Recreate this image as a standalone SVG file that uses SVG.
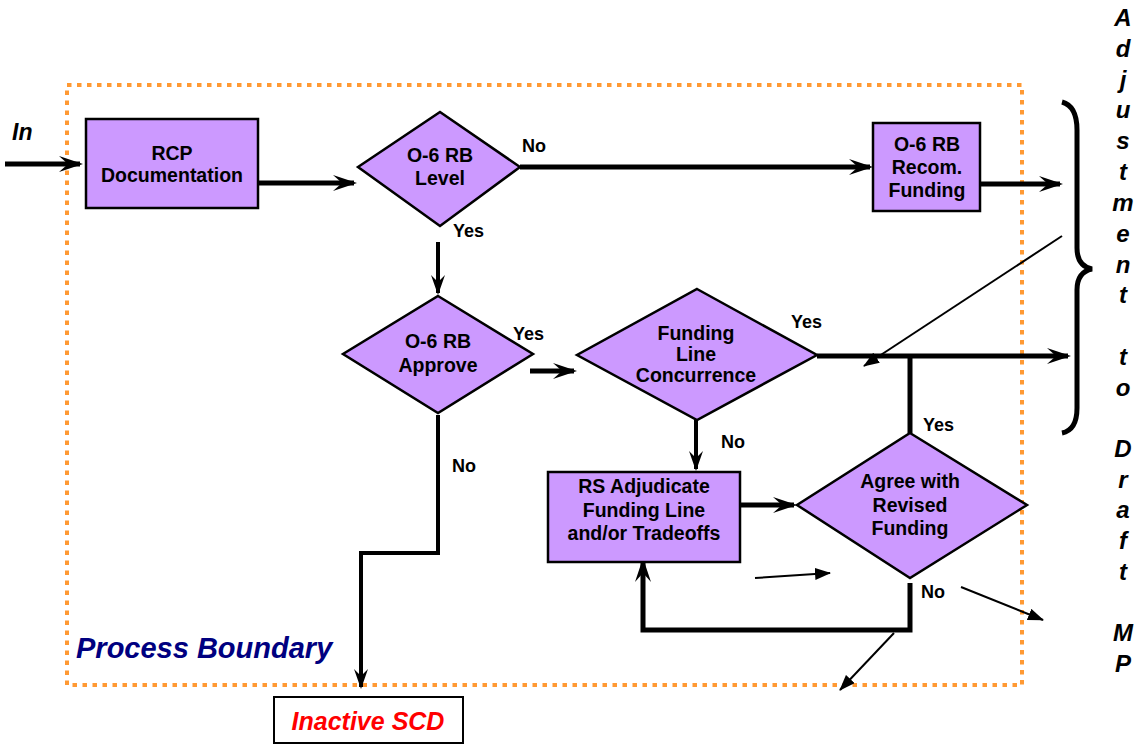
<svg xmlns="http://www.w3.org/2000/svg" width="1136" height="744" viewBox="0 0 1136 744">
<style>
.node{fill:#cc99ff;stroke:#000;stroke-width:2.5}
.t{font-family:"Liberation Sans",Arial,sans-serif;font-weight:bold;font-size:19.5px;fill:#000;text-anchor:middle}
.lbl{font-family:"Liberation Sans",Arial,sans-serif;font-weight:bold;font-size:18px;fill:#000}
.thick{fill:none;stroke:#000;stroke-width:5}
.med{fill:none;stroke:#000;stroke-width:4}
.thin{fill:none;stroke:#000;stroke-width:2}
.side{font-family:"Liberation Sans",Arial,sans-serif;font-weight:bold;font-style:italic;font-size:24px;fill:#000;text-anchor:middle}
</style>
<defs>
<marker id="stealth" viewBox="0 0 24 16" refX="21" refY="8" markerWidth="24" markerHeight="16" markerUnits="userSpaceOnUse" orient="auto">
<path d="M0,0 L24,8 L0,16 L9,8 z" fill="#000"/>
</marker>
<marker id="stealthS" viewBox="0 0 20 14" refX="18" refY="7" markerWidth="20" markerHeight="14" markerUnits="userSpaceOnUse" orient="auto">
<path d="M0,0 L20,7 L0,14 L7,7 z" fill="#000"/>
</marker>
<marker id="tri" viewBox="0 0 16 12" refX="15" refY="6" markerWidth="16" markerHeight="12" markerUnits="userSpaceOnUse" orient="auto">
<path d="M0,0 L16,6 L0,12 z" fill="#000"/>
</marker>
</defs>
<rect width="1136" height="744" fill="#fff"/>

<!-- process boundary -->
<rect x="67" y="85" width="955" height="600" fill="none" stroke="#ff9933" stroke-width="4" stroke-dasharray="4.5 5.5"/>
<text x="76" y="658" font-family="Liberation Sans,Arial,sans-serif" font-weight="bold" font-style="italic" font-size="29" fill="#000080">Process Boundary</text>
<text x="12" y="140" font-family="Liberation Sans,Arial,sans-serif" font-weight="bold" font-style="italic" font-size="23" fill="#000">In</text>

<g id="connectors">
<line class="thick" x1="5" y1="164" x2="80" y2="164" marker-end="url(#stealth)"/>
<line class="thick" x1="258" y1="183" x2="354" y2="183" marker-end="url(#stealth)"/>
<line class="thick" x1="520" y1="167" x2="870" y2="167" marker-end="url(#stealth)"/>
<line class="thick" x1="980" y1="184" x2="1060" y2="184" marker-end="url(#stealth)"/>
<line class="med" x1="438" y1="242" x2="438" y2="293" marker-end="url(#stealthS)"/>
<line class="thick" x1="530" y1="371" x2="574" y2="371" marker-end="url(#stealth)"/>
<polyline class="thick" points="817,356 1068,356" marker-end="url(#stealth)"/>
<line class="thick" x1="910" y1="356" x2="910" y2="433"/>
<line class="med" x1="696" y1="420" x2="696" y2="469" marker-end="url(#stealthS)"/>
<line class="thick" x1="740" y1="505" x2="794" y2="505" marker-end="url(#stealth)"/>
<polyline class="thick" points="910,583 910,630 643,630 643,561" marker-end="url(#stealth)"/>
<polyline class="med" points="438,415 438,553 361,553 361,687" marker-end="url(#stealthS)"/>
<line class="thin" x1="1062" y1="236" x2="864" y2="366" marker-end="url(#tri)"/>
<line class="thin" x1="755" y1="578" x2="830" y2="573" marker-end="url(#tri)"/>
<line class="thin" x1="961" y1="587" x2="1043" y2="620" marker-end="url(#tri)"/>
<line class="thin" x1="894" y1="633" x2="840" y2="690" marker-end="url(#tri)"/>
<!-- brace -->
<path d="M1062,102 Q1077,106 1077,130 L1077,248 Q1077,266 1092,269 Q1077,272 1077,290 L1077,408 Q1077,430 1062,433" fill="none" stroke="#000" stroke-width="5"/>
<text class="lbl" x="522" y="152">No</text>
<text class="lbl" x="453" y="237">Yes</text>
<text class="lbl" x="513" y="340">Yes</text>
<text class="lbl" x="791" y="328">Yes</text>
<text class="lbl" x="721" y="448">No</text>
<text class="lbl" x="923" y="431">Yes</text>
<text class="lbl" x="921" y="598">No</text>
<text class="lbl" x="452" y="472">No</text>
</g>

<g id="rcp">
<rect class="node" x="86" y="119" width="172" height="89"/>
<text class="t" x="172" y="160">RCP</text>
<text class="t" x="172" y="182">Documentation</text>
</g>
<g id="level">
<polygon class="node" points="440,112 520,167 440,226 358,167"/>
<text class="t" x="440" y="162">O-6 RB</text>
<text class="t" x="440" y="185">Level</text>
</g>
<g id="recom">
<rect class="node" x="873" y="123" width="107" height="88"/>
<text class="t" x="927" y="151">O-6 RB</text>
<text class="t" x="927" y="174">Recom.</text>
<text class="t" x="927" y="197">Funding</text>
</g>
<g id="approve">
<polygon class="node" points="438,296 533,354 438,413 343,354"/>
<text class="t" x="438" y="348">O-6 RB</text>
<text class="t" x="438" y="372">Approve</text>
</g>
<g id="concurrence">
<polygon class="node" points="697,289 817,355 697,420 577,355"/>
<text class="t" x="696" y="340">Funding</text>
<text class="t" x="696" y="361">Line</text>
<text class="t" x="696" y="382">Concurrence</text>
</g>
<g id="adjudicate">
<rect class="node" x="548" y="472" width="192" height="90"/>
<text class="t" x="644" y="493">RS Adjudicate</text>
<text class="t" x="644" y="517">Funding Line</text>
<text class="t" x="644" y="540">and/or Tradeoffs</text>
</g>
<g id="agree">
<polygon class="node" points="910,433 1027,505 910,578 797,505"/>
<text class="t" x="910" y="488">Agree with</text>
<text class="t" x="910" y="512">Revised</text>
<text class="t" x="910" y="535">Funding</text>
</g>
<g id="inactive">
<rect x="274" y="697" width="189" height="46" fill="#fff" stroke="#000" stroke-width="2"/>
<text x="368" y="730" text-anchor="middle" font-family="Liberation Sans,Arial,sans-serif" font-weight="bold" font-style="italic" font-size="25" fill="#ff0000">Inactive SCD</text>
</g>
<g id="adjustment">
<text class="side" x="1123" y="26">A</text>
<text class="side" x="1123" y="57">d</text>
<text class="side" x="1123" y="88">j</text>
<text class="side" x="1123" y="118">u</text>
<text class="side" x="1123" y="149">s</text>
<text class="side" x="1123" y="180">t</text>
<text class="side" x="1123" y="211">m</text>
<text class="side" x="1123" y="242">e</text>
<text class="side" x="1123" y="273">n</text>
<text class="side" x="1123" y="303">t</text>
<text class="side" x="1123" y="365">t</text>
<text class="side" x="1123" y="396">o</text>
<text class="side" x="1123" y="457">D</text>
<text class="side" x="1123" y="488">r</text>
<text class="side" x="1123" y="518">a</text>
<text class="side" x="1123" y="549">f</text>
<text class="side" x="1123" y="580">t</text>
<text class="side" x="1123" y="641">M</text>
<text class="side" x="1123" y="672">P</text>
</g>
</svg>
